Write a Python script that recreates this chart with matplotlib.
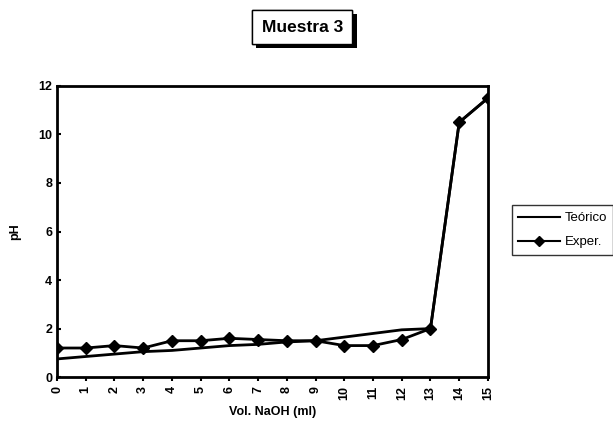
import matplotlib.pyplot as plt
import matplotlib.patheffects as pe
import numpy as np

plt.rcParams['font.family'] = ['Liberation Sans', 'DejaVu Sans']
plt.rcParams['font.weight'] = 'bold'

vol = [0, 1, 2, 3, 4, 5, 6, 7, 8, 9, 10, 11, 12, 13, 14, 15]
teorico = [0.75, 0.85, 0.95, 1.05, 1.1, 1.2, 1.3, 1.35, 1.45, 1.5,
           1.65, 1.8, 1.95, 2.0, 10.5, 11.5]
exper = [1.2, 1.2, 1.3, 1.2, 1.5, 1.5, 1.6, 1.55, 1.5, 1.5,
         1.3, 1.3, 1.55, 2.0, 10.5, 11.5]

fig = plt.figure(figsize=(6.13, 4.36), dpi=100)
ax = fig.add_axes([0.093, 0.135, 0.703, 0.668])

ax.plot(vol, teorico, color='black', lw=2, label='Teórico')
ax.plot(vol, exper, color='black', lw=2, marker='D', ms=6.5, label='Exper.')

ax.set_xlim(0, 15)
ax.set_ylim(0, 12)
ax.set_xticks(vol)
ax.set_xticklabels([str(v) for v in vol], rotation=90)
ax.set_yticks(np.arange(0, 13, 2))
ax.tick_params(axis='both', labelsize=9, width=1.5, length=3)
ax.tick_params(axis='y', direction='in')
for s in ax.spines.values():
    s.set_linewidth(2)

ax.set_xlabel('Vol. NaOH (ml)', fontsize=9, fontweight='bold')
ax.set_ylabel('pH', fontsize=9, fontweight='bold', labelpad=12)

leg = ax.legend(loc='center left', bbox_to_anchor=(1.055, 0.505), frameon=True,
                fancybox=False, edgecolor='black', fontsize=9.5,
                handlelength=3.2, handletextpad=0.3, borderpad=0.5,
                labelspacing=0.9, markerscale=0.8, borderaxespad=0)
leg.get_frame().set_linewidth(1)
for h in leg.get_lines():
    h.set_linewidth(1.5)
for txt in leg.get_texts():
    txt.set_fontweight('normal')

t = fig.text(0.493, 0.938, 'Muestra 3', ha='center', va='center', fontsize=12.5,
             fontweight='bold',
             bbox=dict(boxstyle='square,pad=0.55', fc='white', ec='black', lw=1))
t.get_bbox_patch().set_path_effects([pe.withSimplePatchShadow(offset=(3, -3), shadow_rgbFace='black', alpha=1), pe.Normal()])

fig.savefig('out.png', dpi=100)
